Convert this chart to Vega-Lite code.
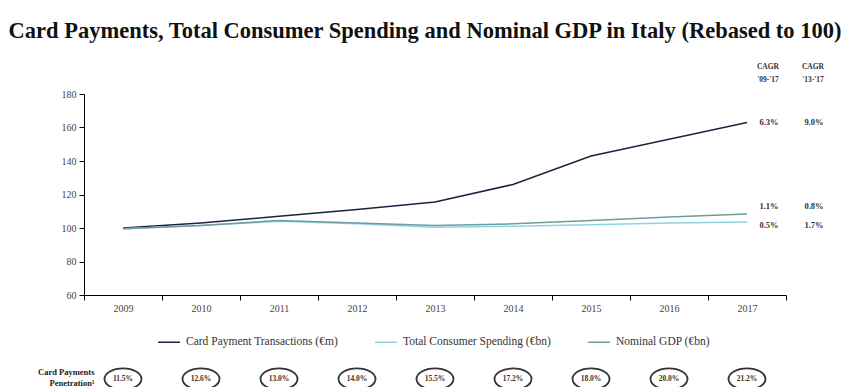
{
  "$schema": "https://vega.github.io/schema/vega-lite/v6.json",
  "padding": {"left": 8, "top": 19, "right": 0, "bottom": 0},
  "background": "white",
  "title": {
    "text": "Card Payments, Total Consumer Spending and Nominal GDP in Italy (Rebased to 100)",
    "anchor": "start",
    "font": "Liberation Serif",
    "fontSize": 22.5,
    "fontWeight": "bold",
    "color": "#111",
    "offset": 21,
    "dx": -29
  },
  "config": {
    "view": {"stroke": null},
    "font": "Liberation Serif"
  },
  "spacing": 16,
  "resolve": {"legend": {"color": "independent"}},
  "vconcat": [
    {
      "width": 702,
      "height": 201,
      "encoding": {
        "x": {
          "field": "year", "type": "ordinal",
          "scale": {"paddingInner": 0, "paddingOuter": 0},
          "axis": {
            "title": null, "labelAngle": 0, "tickBand": "extent",
            "domainColor": "#000", "tickColor": "#000", "tickSize": 5,
            "labelFont": "Liberation Serif", "labelFontSize": 10, "labelColor": "#444",
            "labelPadding": 3
          }
        },
        "y": {
          "field": "value", "type": "quantitative",
          "scale": {"domain": [60, 180], "nice": false, "zero": false},
          "axis": {
            "title": null, "grid": false, "values": [60, 80, 100, 120, 140, 160, 180],
            "tickCount": 7, "labelOverlap": false,
            "domainColor": "#000", "tickColor": "#000", "tickSize": 5,
            "labelFont": "Liberation Serif", "labelFontSize": 10, "labelColor": "#444",
            "labelPadding": 3
          }
        }
      },
      "layer": [
        {
          "data": {
            "values": [
              {"year": "2009", "series": "Card Payment Transactions (€m)", "value": 100},
              {"year": "2010", "series": "Card Payment Transactions (€m)", "value": 103},
              {"year": "2011", "series": "Card Payment Transactions (€m)", "value": 107},
              {"year": "2012", "series": "Card Payment Transactions (€m)", "value": 111},
              {"year": "2013", "series": "Card Payment Transactions (€m)", "value": 115.5},
              {"year": "2014", "series": "Card Payment Transactions (€m)", "value": 126},
              {"year": "2015", "series": "Card Payment Transactions (€m)", "value": 143},
              {"year": "2016", "series": "Card Payment Transactions (€m)", "value": 153},
              {"year": "2017", "series": "Card Payment Transactions (€m)", "value": 163},
              {"year": "2009", "series": "Total Consumer Spending (€bn)", "value": 99.5},
              {"year": "2010", "series": "Total Consumer Spending (€bn)", "value": 101.5},
              {"year": "2011", "series": "Total Consumer Spending (€bn)", "value": 104},
              {"year": "2012", "series": "Total Consumer Spending (€bn)", "value": 102.5},
              {"year": "2013", "series": "Total Consumer Spending (€bn)", "value": 100.5},
              {"year": "2014", "series": "Total Consumer Spending (€bn)", "value": 101},
              {"year": "2015", "series": "Total Consumer Spending (€bn)", "value": 102},
              {"year": "2016", "series": "Total Consumer Spending (€bn)", "value": 103},
              {"year": "2017", "series": "Total Consumer Spending (€bn)", "value": 103.6},
              {"year": "2009", "series": "Nominal GDP (€bn)", "value": 99.5},
              {"year": "2010", "series": "Nominal GDP (€bn)", "value": 101.5},
              {"year": "2011", "series": "Nominal GDP (€bn)", "value": 104.5},
              {"year": "2012", "series": "Nominal GDP (€bn)", "value": 103},
              {"year": "2013", "series": "Nominal GDP (€bn)", "value": 101.5},
              {"year": "2014", "series": "Nominal GDP (€bn)", "value": 102.5},
              {"year": "2015", "series": "Nominal GDP (€bn)", "value": 104.5},
              {"year": "2016", "series": "Nominal GDP (€bn)", "value": 106.5},
              {"year": "2017", "series": "Nominal GDP (€bn)", "value": 108.4}
            ]
          },
          "mark": {"type": "line", "strokeWidth": 1.5},
          "encoding": {
            "color": {
              "field": "series", "type": "nominal",
              "scale": {
                "domain": ["Card Payment Transactions (€m)", "Total Consumer Spending (€bn)", "Nominal GDP (€bn)"],
                "range": ["#1c2341", "#8ed3e3", "#6f9c9c"]
              },
              "legend": {
                "title": null,
                "orient": "none",
                "direction": "horizontal",
                "legendX": 73,
                "legendY": 236,
                "symbolType": "stroke",
                "symbolSize": 480,
                "symbolStrokeWidth": 1.5,
                "labelFont": "Liberation Serif",
                "labelFontSize": 11.5,
                "labelColor": "#333",
                "columnPadding": 34,
                "labelOffset": 5
              }
            }
          }
        },
        {
          "data": {
            "values": [
              {"year": "2017", "series": "Card Payment Transactions (€m)", "value": 163, "cagr0917": "6.3%", "cagr1317": "9.0%"},
              {"year": "2017", "series": "Nominal GDP (€bn)", "value": 108.4, "cagr0917": "1.1%", "cagr1317": "0.8%"},
              {"year": "2017", "series": "Total Consumer Spending (€bn)", "value": 103.6, "cagr0917": "0.5%", "cagr1317": "1.7%"}
            ]
          },
          "layer": [
            {
              "transform": [{"filter": "datum.series === 'Card Payment Transactions (€m)'"}],
              "layer": [
                {"mark": {"type": "text", "dx": 22, "fontSize": 8.5, "fontWeight": "bold", "color": "#333"},
                 "encoding": {"text": {"field": "cagr0917"}}},
                {"mark": {"type": "text", "dx": 67, "fontSize": 8.5, "fontWeight": "bold", "color": "#333"},
                 "encoding": {"text": {"field": "cagr1317"}}}
              ]
            },
            {
              "transform": [{"filter": "datum.series === 'Nominal GDP (€bn)'"}],
              "layer": [
                {"mark": {"type": "text", "dx": 22, "dy": -8, "fontSize": 8.5, "fontWeight": "bold", "color": "#333"},
                 "encoding": {"text": {"field": "cagr0917"}}},
                {"mark": {"type": "text", "dx": 67, "dy": -8, "fontSize": 8.5, "fontWeight": "bold", "color": "#333"},
                 "encoding": {"text": {"field": "cagr1317"}}}
              ]
            },
            {
              "transform": [{"filter": "datum.series === 'Total Consumer Spending (€bn)'"}],
              "layer": [
                {"mark": {"type": "text", "dx": 22, "dy": 3, "fontSize": 8.5, "fontWeight": "bold", "color": "#333"},
                 "encoding": {"text": {"field": "cagr0917"}}},
                {"mark": {"type": "text", "dx": 67, "dy": 3, "fontSize": 8.5, "fontWeight": "bold", "color": "#333"},
                 "encoding": {"text": {"field": "cagr1317"}}}
              ]
            }
          ]
        },
        {
          "data": {"values": [{"year": "2017", "h1": "CAGR|'09-'17", "h2": "CAGR|'13-'17", "value": 196}]},
          "layer": [
            {"mark": {"type": "text", "dx": 21, "fontSize": 7.5, "fontWeight": "bold", "color": "#333", "lineBreak": "|", "lineHeight": 13},
             "encoding": {"text": {"field": "h1"}}},
            {"mark": {"type": "text", "dx": 66, "fontSize": 7.5, "fontWeight": "bold", "color": "#333", "lineBreak": "|", "lineHeight": 13},
             "encoding": {"text": {"field": "h2"}}}
          ]
        }
      ]
    },
    {
      "width": 702,
      "height": 24,
      "data": {
        "values": [
          {"year": "2009", "row": "Card Payments|Penetration¹", "pen": "11.5%"},
          {"year": "2010", "row": "Card Payments|Penetration¹", "pen": "12.6%"},
          {"year": "2011", "row": "Card Payments|Penetration¹", "pen": "13.0%"},
          {"year": "2012", "row": "Card Payments|Penetration¹", "pen": "14.0%"},
          {"year": "2013", "row": "Card Payments|Penetration¹", "pen": "15.5%"},
          {"year": "2014", "row": "Card Payments|Penetration¹", "pen": "17.2%"},
          {"year": "2015", "row": "Card Payments|Penetration¹", "pen": "18.0%"},
          {"year": "2016", "row": "Card Payments|Penetration¹", "pen": "20.0%"},
          {"year": "2017", "row": "Card Payments|Penetration¹", "pen": "21.2%"}
        ]
      },
      "encoding": {
        "x": {"field": "year", "type": "ordinal", "scale": {"paddingInner": 0, "paddingOuter": 0}, "axis": null},
        "y": {
          "field": "row", "type": "nominal",
          "axis": {
            "title": null, "domain": false, "ticks": false,
            "labelExpr": "split(datum.value, '|')",
            "labelFont": "Liberation Serif", "labelFontSize": 8.5, "labelFontWeight": "bold",
            "labelColor": "#222", "labelPadding": -10, "labelLineHeight": 11,
            "labelBaseline": "middle", "labelOffset": -7.5
          }
        }
      },
      "layer": [
        {
          "mark": {
            "type": "point",
            "shape": "M -1 0 A 1 0.57 0 1 0 1 0 A 1 0.57 0 1 0 -1 0 Z",
            "size": 1369,
            "filled": false,
            "stroke": "#333",
            "strokeWidth": 1.8,
            "fill": "white",
            "fillOpacity": 1,
            "opacity": 1
          }
        },
        {
          "mark": {"type": "text", "fontSize": 7.5, "fontWeight": "bold", "color": "#333"},
          "encoding": {"text": {"field": "pen"}}
        }
      ]
    }
  ]
}
